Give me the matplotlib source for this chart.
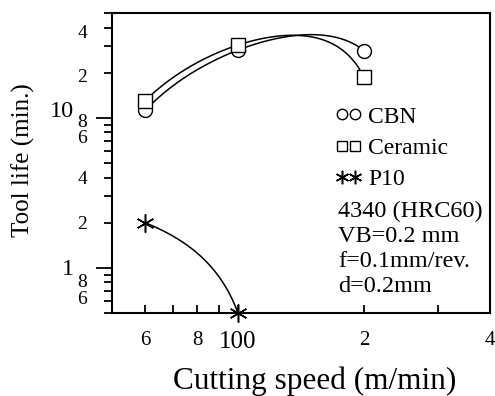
import numpy as np
import matplotlib
matplotlib.use("Agg")
import matplotlib.pyplot as plt
from matplotlib.transforms import ScaledTranslation

plt.rcParams["font.family"] = ["Liberation Serif", "DejaVu Serif"]

# Tool life data (cutting speed in m/min, tool life in min)
speed_cbn = [60, 100, 200]
life_cbn = [11.2, 28.3, 28.1]

speed_ceramic = [60, 100, 200]
life_ceramic = [13.0, 30.6, 18.7]

speed_p10 = [60, 100]
life_p10 = [2.0, 0.5]

series_labels = ["CBN", "Ceramic", "P10"]

# Axis ticks and their labels
x_major = [100]
x_major_labels = ["100"]
x_minor = [60, 70, 80, 90, 200, 300, 400]
x_minor_labels = ["6", "", "8", "", "2", "", "4"]

y_major = [1, 10]
y_major_labels = ["1", "10"]
y_minor = [0.5, 0.6, 0.7, 0.8, 0.9, 2, 3, 4, 5, 6, 7, 8, 9, 20, 30, 40, 50]
y_minor_labels = ["", "6", "", "8", "", "2", "", "4", "", "6", "", "8", "", "2", "", "4", ""]

conditions = ["4340 (HRC60)", "VB=0.2 mm", "f=0.1mm/rev.", "d=0.2mm"]

fig = plt.figure(figsize=(4.95, 3.96), dpi=100)
ax = fig.add_axes([112 / 495, 1 - 313 / 396, 378 / 495, 300 / 396])
ax.set_xscale("log")
ax.set_yscale("log")
ax.set_xlim(50, 400)
ax.set_ylim(0.5, 50)


def fitted_curve(xs, ys, deg):
    coef = np.polyfit(xs, ys, deg)
    xx = np.linspace(min(xs), max(xs), 300)
    return xx, np.polyval(coef, xx)


for xs, ys, deg in [(speed_cbn, life_cbn, 2),
                    (speed_ceramic, life_ceramic, 2),
                    (speed_p10, life_p10, 1)]:
    xx, yy = fitted_curve(xs, ys, deg)
    ax.plot(xx, yy, color="black", lw=1.1, clip_on=False)

mk = dict(color="black", linestyle="none", clip_on=False, zorder=3)
ax.plot(speed_cbn, life_cbn, marker="o", ms=10, mfc="white", mec="black",
        mew=1.0, label=series_labels[0], **mk)
ax.plot(speed_ceramic, life_ceramic, marker="s", ms=10, mfc="white",
        mec="black", mew=1.0, label=series_labels[1], **mk)
ax.plot(speed_p10, life_p10, marker=(6, 2, 0), ms=13, mec="black", mew=1.1,
        label=series_labels[2], **mk)

for s in ax.spines.values():
    s.set_linewidth(1.5)

# x axis: ticks point inward
ax.set_xticks(x_major, labels=x_major_labels)
ax.set_xticks(x_minor, labels=x_minor_labels, minor=True)
ax.tick_params(axis="x", which="both", direction="in", length=6, width=1.3,
               pad=13)
ax.tick_params(axis="x", which="major", labelsize=18)
ax.tick_params(axis="x", which="minor", labelsize=15)

# y axis: ticks point outward
ax.set_yticks(y_major, labels=y_major_labels)
ax.set_yticks(y_minor, labels=y_minor_labels, minor=True)
ax.tick_params(axis="y", which="major", direction="out", length=11.5,
               width=1.3, pad=16, labelsize=17.5)
ax.tick_params(axis="y", which="minor", direction="out", length=6,
               width=1.3, pad=12, labelsize=14)

# crowded labels are shifted a little (pixels, + is up)
nudge = {10: 9, 8: 12, 6: 15, 40: -4, 20: -3, 1: 1, 0.8: 2, 0.6: 4}
for tick in ax.yaxis.get_major_ticks() + ax.yaxis.get_minor_ticks():
    v = round(tick.get_loc(), 3)
    if v in nudge:
        lab = tick.label1
        lab.set_transform(lab.get_transform() +
                          ScaledTranslation(0, nudge[v] / 100, fig.dpi_scale_trans))

ax.set_xlabel("Cutting speed (m/min)", fontsize=22.5)
ax.xaxis.set_label_coords(0.537, -0.18)
ax.set_ylabel("Tool life (min.)", fontsize=18)
ax.yaxis.set_label_coords(-0.205, 0.51)

ax.legend(loc="upper left", bbox_to_anchor=(0.59, 0.69), frameon=False,
          numpoints=2, handlelength=1.15, handletextpad=0.25,
          markerscale=0.75, fontsize=17, labelspacing=0.42, borderpad=0,
          borderaxespad=0)

for i, line in enumerate(conditions):
    ax.text(0.598, 0.32 - i * 0.0833, line, transform=ax.transAxes,
            fontsize=17.5, va="baseline", ha="left")

fig.savefig("out.png", dpi=100, facecolor="white")
